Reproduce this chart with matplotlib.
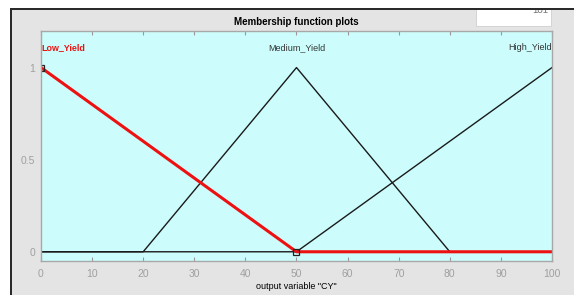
import matplotlib.pyplot as plt
from matplotlib.patches import Rectangle

plt.rcParams['font.family'] = ['Liberation Sans', 'DejaVu Sans']

# membership functions of output variable "CY"
mf_names = ['Low_Yield', 'Medium_Yield', 'High_Yield']
low_x = [0, 50, 100]
low_y = [1, 0, 0]
med_x = [0, 20, 50, 80, 100]
med_y = [0, 0, 1, 0, 0]
high_x = [0, 50, 100]
high_y = [0, 0, 1]
label_pos = [0, 50, 100]
sel_x = [0, 50]
sel_y = [1, 0]
xticks = list(range(0, 101, 10))
yticks = [0, 0.5, 1]

grey_bg = '#e4e4e4'
fig = plt.figure(figsize=(5.74, 2.95), dpi=100, facecolor=grey_bg)

ax = fig.add_axes([0.0714, 0.1153, 0.8903, 0.7806])
ax.set_facecolor('#ccfdfc')
ax.plot(med_x, med_y, color='#1a1a1a', lw=1)
ax.plot(high_x, high_y, color='#1a1a1a', lw=1)
ax.plot(low_x, low_y, color='#ee1111', lw=2.2)
ax.plot(sel_x, sel_y, ls='none', marker='s', ms=5, mfc='none', mec='#222222', mew=0.9)

ax.set_xlim(0, 100)
ax.set_ylim(-0.05, 1.2)
ax.set_xticks(xticks)
ax.set_yticks(yticks)
ax.set_yticklabels(['0', '0.5', '1'])
ax.tick_params(direction='in', length=3, width=0.8, colors='#9a9a9a',
               labelsize=7.5, labelcolor='#a0a0a0', top=True, pad=6)
ax.tick_params(axis='y', length=0, pad=4)
for s in ax.spines.values():
    s.set_color('#a8a8a8')
    s.set_linewidth(1)

ax.text(label_pos[0], 1.11, mf_names[0], color='#ee1111', fontweight='bold',
        fontsize=6.4, ha='left', va='center')
ax.text(label_pos[1], 1.11, mf_names[1], color='#333333', fontsize=6.5,
        ha='center', va='center')
ax.text(label_pos[2], 1.11, mf_names[2], color='#333333', fontsize=6.5,
        ha='right', va='center')

ax.set_title('Membership function plots', fontsize=7, fontweight='bold', pad=4)
ax.set_xlabel('output variable "CY"', fontsize=6.5, labelpad=2)

# screenshot framing: white box with clipped number, dark border, white strip
fig.patches.append(Rectangle((476 / 574, 1 - 26 / 295), 75 / 574, 26 / 295,
                             transform=fig.transFigure, facecolor='white',
                             edgecolor='#cfcfcf', lw=0.6, zorder=1))
fig.text(548 / 574, 1 - 10 / 295, '181', fontsize=7, color='#777777',
         ha='right', va='center', zorder=2)
fig.patches.append(Rectangle((0, 1 - 8 / 295), 1, 8 / 295, transform=fig.transFigure,
                             facecolor='white', edgecolor='none', zorder=5))
fig.patches.append(Rectangle((0, 0), 10 / 574, 1, transform=fig.transFigure,
                             facecolor='white', edgecolor='none', zorder=5))
fig.patches.append(Rectangle((10 / 574, 1 - 10 / 295), 1, 2.2 / 295,
                             transform=fig.transFigure, facecolor='#2a2a2a',
                             edgecolor='none', zorder=6))
fig.patches.append(Rectangle((10 / 574, 0), 2.2 / 574, 1 - 8 / 295,
                             transform=fig.transFigure, facecolor='#2a2a2a',
                             edgecolor='none', zorder=6))

fig.savefig('out.png', dpi=100, facecolor=grey_bg)
